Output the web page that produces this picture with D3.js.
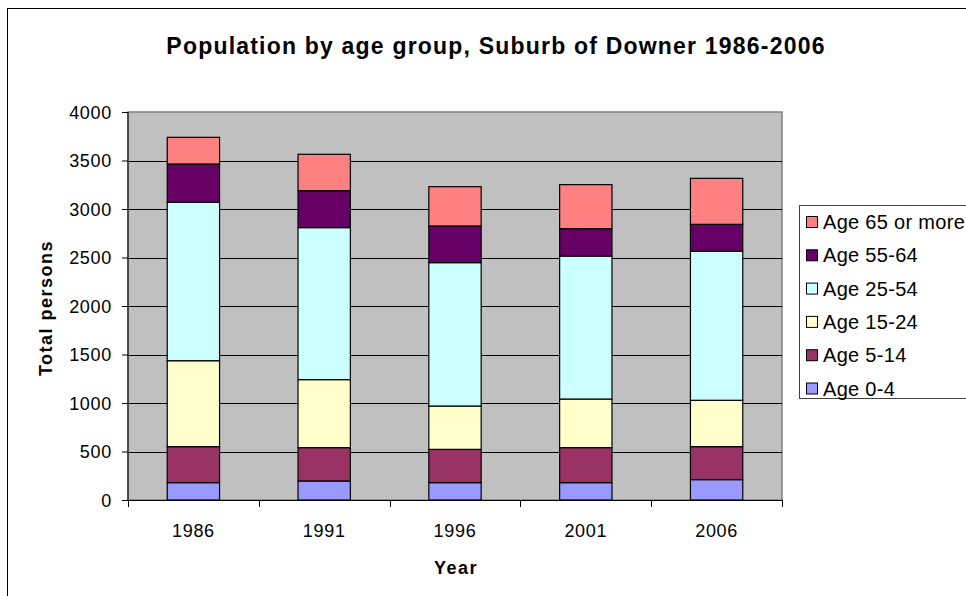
<!DOCTYPE html>
<html>
<head>
<meta charset="utf-8">
<script src="https://cdn.jsdelivr.net/npm/d3@7"></script>
<style>
  body { margin: 0; background: #fff; }
  text { font-family: "Liberation Sans", Arial, sans-serif; fill: #000; }
</style>
</head>
<body>
<div class="chart"></div>
<script>
const years = ["1986", "1991", "1996", "2001", "2006"];
const ageGroups = ["Age 0-4", "Age 5-14", "Age 15-24", "Age 25-54", "Age 55-64", "Age 65 or more"];
const groupColors = ["#9999ff", "#993366", "#ffffcc", "#ccffff", "#660066", "#ff8080"];

// persons per age group, one value per year
const age0to4   = [179, 196, 179, 179, 210];
const age5to14  = [371, 344, 343, 361, 340];
const age15to24 = [886, 701, 447, 501, 478];
const age25to54 = [1633, 1567, 1478, 1474, 1536];
const age55to64 = [395, 381, 378, 282, 278];
const age65plus = [275, 375, 405, 454, 474];

const yTicks = [0, 500, 1000, 1500, 2000, 2500, 3000, 3500, 4000];

const series = [age0to4, age5to14, age15to24, age25to54, age55to64, age65plus];

const width = 966, height = 596;
const plot = { left: 128, right: 782, top: 112, bottom: 500 };

const svg = d3.select(".chart")
              .append("svg")
                .attr("width", width)
                .attr("height", height);

// outer chart frame
svg.append("rect")
   .attr("x", 7.5).attr("y", 8.5)
   .attr("width", 1000).attr("height", 700)
   .attr("fill", "#fff")
   .attr("stroke", "#000")
   .attr("stroke-width", 1);

svg.append("text")
   .attr("x", 496).attr("y", 54)
   .attr("text-anchor", "middle")
   .attr("font-size", "23px")
   .attr("font-weight", "bold")
   .attr("letter-spacing", "1.2px")
   .text("Population by age group, Suburb of Downer 1986-2006");

const x = d3.scaleBand()
            .domain(years)
            .range([plot.left, plot.right])
            .paddingInner(0.6)
            .paddingOuter(0.3);

const y = d3.scaleLinear()
            .domain([0, 4000])
            .range([plot.bottom, plot.top]);

// plot background
svg.append("rect")
   .attr("x", plot.left).attr("y", plot.top)
   .attr("width", plot.right - plot.left)
   .attr("height", plot.bottom - plot.top)
   .attr("fill", "#c0c0c0")
   .attr("stroke", "#808080")
   .attr("stroke-width", 1.5);

// gridlines
svg.append("g")
   .selectAll("line")
   .data(yTicks.filter(d => d > 0 && d < 4000))
   .enter()
   .append("line")
     .attr("x1", plot.left).attr("x2", plot.right)
     .attr("y1", d => Math.round(y(d)) + 0.5)
     .attr("y2", d => Math.round(y(d)) + 0.5)
     .attr("stroke", "#000")
     .attr("stroke-width", 1);

// stacked bars
const table = years.map((yr, i) => {
    const row = { year: yr };
    ageGroups.forEach((g, k) => { row[g] = series[k][i]; });
    return row;
});

const stack = d3.stack().keys(ageGroups)(table);

svg.append("g")
   .selectAll("g")
   .data(stack)
   .enter()
   .append("g")
     .attr("fill", (d, k) => groupColors[k])
   .selectAll("rect")
   .data(d => d)
   .enter()
   .append("rect")
     .attr("x", d => x(d.data.year))
     .attr("y", d => y(d[1]))
     .attr("width", x.bandwidth())
     .attr("height", d => y(d[0]) - y(d[1]))
     .attr("stroke", "#000")
     .attr("stroke-width", 1.2);

// y axis
const yAxis = d3.axisLeft(y)
                .tickValues(yTicks)
                .tickFormat(d3.format("d"))
                .tickSize(6)
                .tickPadding(10);

const gy = svg.append("g")
              .attr("transform", "translate(" + plot.left + ",0)")
              .call(yAxis);
gy.select(".domain").attr("stroke", "#000").attr("d", "M0," + plot.top + "V" + plot.bottom);
gy.selectAll("line").attr("stroke", "#000");
gy.selectAll("text")
  .attr("font-size", "18px")
  .attr("letter-spacing", "0.7px")
  .attr("font-family", "Liberation Sans, Arial, sans-serif")
  .attr("dy", "0.35em");

// x axis: ticks sit between the categories
const gx = svg.append("g")
              .attr("transform", "translate(0," + plot.bottom + ")");
gx.append("line")
  .attr("x1", plot.left).attr("x2", plot.right)
  .attr("y1", 0.5).attr("y2", 0.5)
  .attr("stroke", "#000");
const edges = years.map(d => x(d) - x.step() * x.paddingInner() / 2)
                   .concat([plot.right]);
gx.selectAll(".edge")
  .data(edges)
  .enter()
  .append("line")
    .attr("class", "edge")
    .attr("x1", d => Math.round(d) + 0.5).attr("x2", d => Math.round(d) + 0.5)
    .attr("y1", 0).attr("y2", 7)
    .attr("stroke", "#000");
gx.selectAll(".cat")
  .data(years)
  .enter()
  .append("text")
    .attr("class", "cat")
    .attr("x", d => x(d) + x.bandwidth() / 2)
    .attr("y", 37)
    .attr("text-anchor", "middle")
    .attr("font-size", "18px")
    .attr("letter-spacing", "0.7px")
    .text(d => d);

// axis titles
svg.append("text")
   .attr("x", 456).attr("y", 574)
   .attr("text-anchor", "middle")
   .attr("font-size", "18px")
   .attr("font-weight", "bold")
   .attr("letter-spacing", "1.5px")
   .text("Year");

svg.append("text")
   .attr("transform", "translate(52,308) rotate(-90)")
   .attr("text-anchor", "middle")
   .attr("font-size", "18px")
   .attr("font-weight", "bold")
   .attr("letter-spacing", "1.5px")
   .text("Total persons");

// legend, top entry is the top of the stack
const legend = svg.append("g");
legend.append("rect")
      .attr("x", 799.5).attr("y", 205.5)
      .attr("width", 300).attr("height", 193)
      .attr("fill", "#fff")
      .attr("stroke", "#404040");

const legendItems = ageGroups.map((g, k) => ({ name: g, color: groupColors[k] })).reverse();

const item = legend.selectAll(".item")
                   .data(legendItems)
                   .enter()
                   .append("g")
                     .attr("class", "item")
                     .attr("transform", (d, i) => "translate(806," + (222 + i * 33.3) + ")");
item.append("rect")
    .attr("x", 0.5).attr("y", -5.5)
    .attr("width", 11).attr("height", 11)
    .attr("fill", d => d.color)
    .attr("stroke", "#000");
item.append("text")
    .attr("x", 17).attr("y", 7)
    .attr("font-size", "20px")
    .attr("letter-spacing", "0.3px")
    .text(d => d.name);
</script>
</body>
</html>
